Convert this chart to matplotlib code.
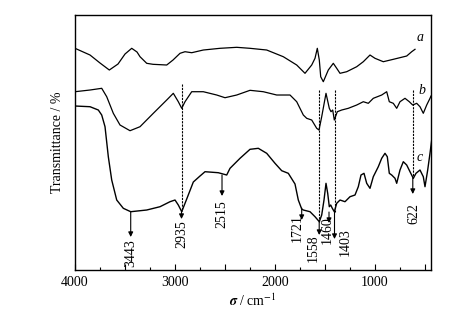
import matplotlib
matplotlib.use("Agg")
import matplotlib.pyplot as plt
from matplotlib.ticker import MultipleLocator, FuncFormatter

plt.rcParams['font.family'] = ['Liberation Serif', 'DejaVu Serif']
plt.rcParams['mathtext.fontset'] = 'stix'

# wavenumber (cm-1) and transmittance (arbitrary, offset) for each spectrum
wn_a = [4000, 3850, 3750, 3657, 3570, 3500, 3433, 3380, 3350, 3283, 3220, 3083, 3020, 2950,
        2900, 2833, 2717, 2550, 2383, 2250, 2083, 1917, 1783, 1700, 1633, 1600, 1577, 1557,
        1543, 1517, 1467, 1417, 1383, 1350, 1283, 1183, 1117, 1050, 1000, 917, 817, 683, 633, 600]
t_a = [221.7, 215, 207, 200, 206, 216, 221.7, 218, 213.3, 206.7, 205.7, 205, 210, 216.7,
       218.3, 217.3, 220, 221.7, 222.7, 221.7, 220, 213.3, 205, 196.7, 205, 211.7, 221.7, 210,
       193.3, 188.3, 200, 206.7, 201.7, 196.7, 198.3, 203.3, 208.3, 215, 211.7, 208.3, 210.7, 214, 218.3, 220.7]

wn_b = [4000, 3850, 3733, 3683, 3617, 3550, 3450, 3350, 3217, 3083, 3017, 2967, 2933, 2900,
        2833, 2717, 2583, 2500, 2383, 2250, 2117, 1983, 1850, 1783, 1717, 1683, 1633, 1583,
        1560, 1533, 1490, 1457, 1440, 1423, 1407, 1377, 1333, 1267, 1183, 1117, 1067, 1017,
        933, 883, 857, 817, 783, 750, 700, 657, 623, 583, 550, 517, 483, 450, 440]
t_b = [178.3, 180, 181.7, 173.3, 156.7, 145, 139.3, 143.3, 156.7, 170, 176.7, 168.3, 161.7, 168.3,
       178.3, 178.3, 175, 172.3, 175, 179.7, 178.3, 175, 175, 168.3, 155, 151.7, 150, 141.7,
       140, 153.3, 176.7, 161.7, 158.3, 160, 150, 158.3, 160, 161.7, 165, 168.3, 166.7, 171.7,
       175, 178.3, 168.3, 166.7, 161.7, 168.3, 171.7, 168.3, 165, 166.7, 163.3, 156.7, 165, 171.7, 174]

wn_c = [4000, 3850, 3767, 3733, 3700, 3667, 3633, 3583, 3517, 3443, 3283, 3150, 3050, 3000,
        2967, 2933, 2883, 2817, 2750, 2700, 2567, 2483, 2450, 2350, 2250, 2167, 2083, 2000,
        1933, 1867, 1800, 1767, 1733, 1717, 1650, 1600, 1557, 1533, 1510, 1490, 1473, 1457,
        1443, 1427, 1407, 1383, 1350, 1300, 1250, 1200, 1167, 1140, 1110, 1083, 1050, 1017,
        967, 933, 900, 877, 857, 833, 800, 783, 750, 717, 683, 650, 617, 590, 550, 517, 500,
        473, 450, 433]
t_c = [164, 163.3, 160, 155, 143.3, 113.3, 90, 70, 61.7, 58.3, 60, 63.3, 68.3, 70,
       65, 58.3, 71, 88, 94, 98.3, 97.3, 95, 101.7, 111.7, 120.7, 121.7, 116.7, 106.7,
       99.3, 96.7, 86, 70, 61, 60, 58.3, 53.3, 48.3, 55, 70, 86.7, 76.7, 63.3,
       65, 61.7, 58.3, 66.7, 70, 68.3, 73.3, 75, 83.3, 95, 96.7, 86.7, 81.7, 93.3,
       103.3, 111.7, 116.7, 113.3, 96.7, 95, 91.7, 86.7, 100, 108.3, 105, 98.3, 91.7, 96.7, 100, 93.3, 83.3,
       100, 116.7, 130]

# peak annotations: label, arrow x, arrow start, arrow tip, text x, text y
peak_labels = ['3443', '2935', '2515', '1721', '1558', '1460', '1403', '622']
peak_x = [3443, 2935, 2530, 1733, 1558, 1460, 1405, 622]
arrow_from = [58, 59, 95, 62, 48, 58, 58, 92]
arrow_to = [33, 51, 74, 50, 35, 47, 31, 76]
text_x = [3440, 2935, 2530, 1775, 1620, 1475, 1300, 615]
text_y = [17, 36, 56, 42, 22, 40, 28, 56]

# dashed guide lines: x, top, bottom
guide_x = [2935, 1558, 1405, 622]
guide_top = [186, 180, 180, 180]
guide_bottom = [59, 48, 58, 92]

fig = plt.figure(figsize=(4.73, 3.25), dpi=100)
ax = fig.add_axes([0.1586, 0.1692, 0.7526, 0.7846])

ax.plot(wn_a, t_a, color='k', lw=0.9)
ax.plot(wn_b, t_b, color='k', lw=0.9)
ax.plot(wn_c, t_c, color='k', lw=1.0)

for gx, gt, gb in zip(guide_x, guide_top, guide_bottom):
    ax.plot([gx, gx], [gt, gb], color='k', lw=0.8, ls=(0, (2, 1)))

for lab, px, a0, a1, tx, ty in zip(peak_labels, peak_x, arrow_from, arrow_to, text_x, text_y):
    ax.annotate('', xy=(px, a1), xytext=(px, a0),
                arrowprops=dict(arrowstyle='-|>', lw=0.8, color='k', mutation_scale=7,
                                shrinkA=0, shrinkB=0))
    ax.text(tx, ty, lab, rotation=90, ha='center', va='center', fontsize=10)

ax.text(550, 233, 'a', style='italic', fontsize=10, ha='center', va='center')
ax.text(533, 180, 'b', style='italic', fontsize=10, ha='center', va='center')
ax.text(550, 113, 'c', style='italic', fontsize=10, ha='center', va='center')

ax.set_xlim(4000, 440)
ax.set_ylim(0, 255)
ax.xaxis.set_major_locator(MultipleLocator(500))
ax.xaxis.set_minor_locator(MultipleLocator(250))
ax.xaxis.set_major_formatter(FuncFormatter(lambda v, p: '%d' % v if v % 1000 == 0 else ''))
ax.tick_params(axis='x', which='major', direction='in', length=4, width=0.8, labelsize=10, pad=4)
ax.tick_params(axis='x', which='minor', direction='in', length=2.5, width=0.8)
ax.set_yticks([])
for s in ax.spines.values():
    s.set_linewidth(1.0)

ax.set_xlabel(r'$\boldsymbol{\sigma}$ / cm$^{-1}$', fontsize=10, labelpad=3)
ax.set_ylabel('Transmittance / %', fontsize=10, labelpad=8)

fig.savefig('out.png', dpi=100)
